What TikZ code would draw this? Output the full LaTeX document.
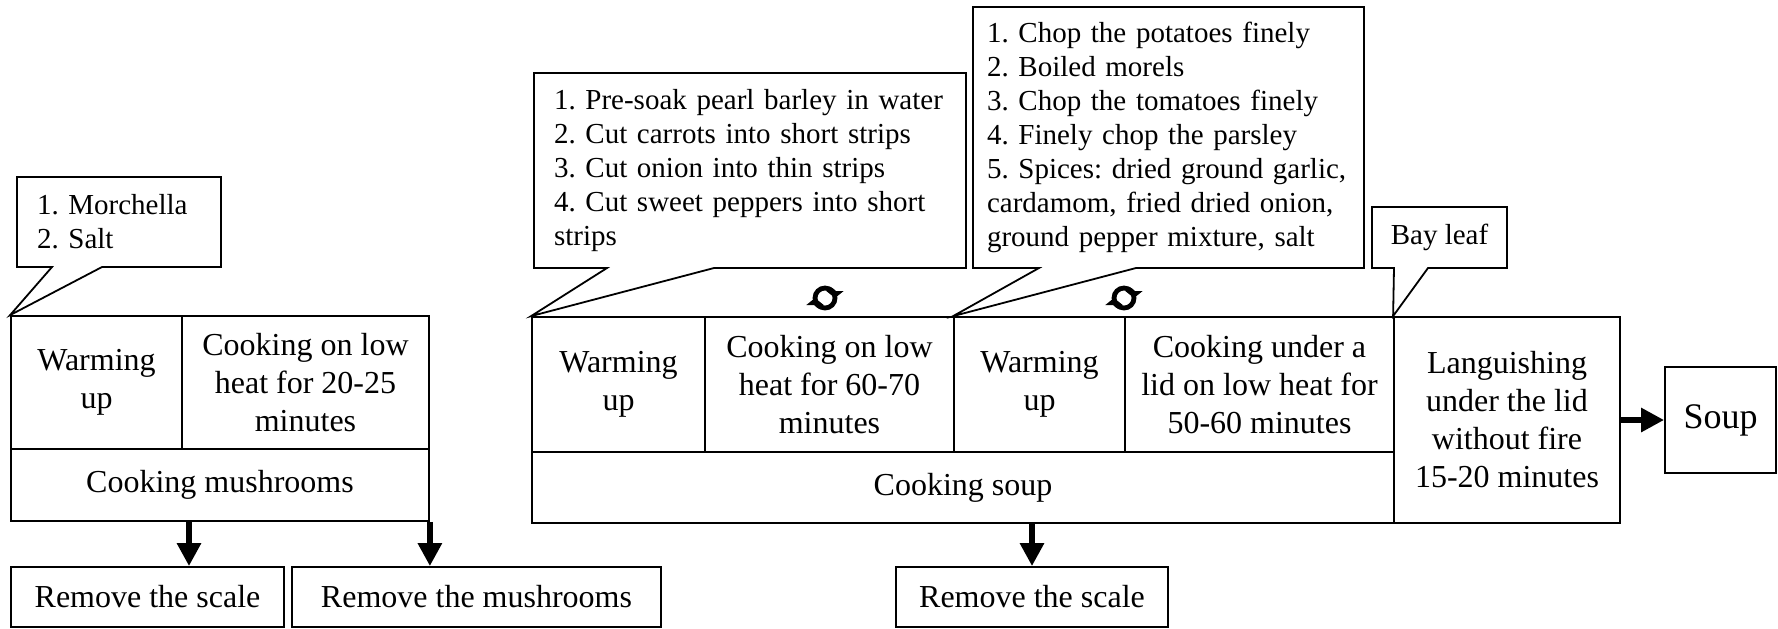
\documentclass[tikz,border=0pt]{standalone}
\usepackage{fontspec}
\setmainfont{Liberation Serif}
\usetikzlibrary{arrows.meta, calc, positioning}
\tikzset{
    mycell/.style = {
        rectangle,
        draw=black,
        line width=0.9pt,
        align=center,
        inner sep=0pt,
        font=\fontsize{16}{19}\selectfont
    },
    mynote/.style = {
        rectangle,
        align=left,
        inner xsep=10pt,
        inner ysep=0pt,
        outer sep=0pt,
        font=\fontsize{14.5}{17}\selectfont
    },
    myborder/.style = {
        line width=0.9pt,
        line join=miter
    },
    myarrow/.style = {
        line width=3pt,
        ->,
        >={Triangle[width=11.5pt,length=11.5pt]}
    },
    mycycle/.style = {
        line width=2.4pt,
        ->,
        >={Triangle[width=8.5pt,length=3.5pt]}
    }
}

\begin{document}
\frenchspacing
\hyphenpenalty=10000
\begin{tikzpicture}[x=0.5pt, y=-0.5pt]
\useasboundingbox (0,0) rectangle (1778,628);

% Cooking mushrooms
\node (mwarm) [mycell, minimum width=85.5pt, minimum height=66.5pt] at (96.5,382.5) {Warming\\up};
\node (mcook) [mycell, minimum width=123.5pt, minimum height=66.5pt] at (305.5,382.5) {Cooking on low\\heat for 20-25\\minutes};
\node (mbase) [mycell, minimum width=209pt, minimum height=36pt] at (220,485) {Cooking mushrooms};
\node (mscale) [mycell, minimum width=136.5pt, minimum height=30pt] at (147.5,597) {Remove the scale};
\node (mremove) [mycell, minimum width=184.5pt, minimum height=30pt] at (476.5,597) {Remove the mushrooms};

% Cooking soup
\node (swarma) [mycell, minimum width=86.5pt, minimum height=67.5pt] at (618.5,384.5) {Warming\\up};
\node (scooka) [mycell, minimum width=124.5pt, minimum height=67.5pt] at (829.5,384.5) {Cooking on low\\heat for 60-70\\minutes};
\node (swarmb) [mycell, minimum width=85.5pt, minimum height=67.5pt] at (1039.5,384.5) {Warming\\up};
\node (scookb) [mycell, minimum width=134.5pt, minimum height=67.5pt] at (1259.5,384.5) {Cooking under a\\lid on low heat for\\50-60 minutes};
\node (sbase) [mycell, minimum width=431pt, minimum height=35.5pt] at (963,487.5) {Cooking soup};
\node (slang) [mycell, minimum width=113pt, minimum height=103pt] at (1507,420) {Languishing\\under the lid\\without fire\\15-20 minutes};
\node (soup) [mycell, minimum width=55.5pt, minimum height=53pt, font=\fontsize{18}{21}\selectfont] at (1720.5,420) {Soup};
\node (sscale) [mycell, minimum width=136pt, minimum height=30pt] at (1032,597) {Remove the scale};

% Notes
\node (notem) [mynote, minimum width=102pt, minimum height=45pt, text width=82pt] at (119,222) {1. Morchella\\2. Salt};
\node (notea) [mynote, minimum width=216pt, minimum height=97.5pt, text width=196pt] at (750,170.5) {1. Pre-soak pearl barley in water\\2. Cut carrots into short strips\\3. Cut onion into thin strips\\4. Cut sweet peppers into short\\strips};
\node (noteb) [mynote, inner xsep=7pt, minimum width=195.5pt, minimum height=130.5pt, text width=181.5pt] at (1168.5,137.5) {1. Chop the potatoes finely\\2. Boiled morels\\3. Chop the tomatoes finely\\4. Finely chop the parsley\\5. Spices: dried ground garlic,\\cardamom, fried dried onion,\\ground pepper mixture, salt};
\node (notebay) [mynote, align=center, inner xsep=0pt, minimum width=67.5pt, minimum height=30.5pt] at (1439.5,237.5) {Bay leaf};

\draw[myborder] (notem.south west) -- (notem.north west) -- (notem.north east) -- (notem.south east) -- ($(notem.south west)+(85,0)$) -- (mwarm.north west) -- ($(notem.south west)+(35,0)$) -- cycle;
\draw[myborder] (notea.south west) -- (notea.north west) -- (notea.north east) -- (notea.south east) -- ($(notea.south west)+(180,0)$) -- (swarma.north west) -- ($(notea.south west)+(73,0)$) -- cycle;
\draw[myborder] (noteb.south west) -- (noteb.north west) -- (noteb.north east) -- (noteb.south east) -- ($(noteb.south west)+(163,0)$) -- (swarmb.north west) -- ($(noteb.south west)+(66,0)$) -- cycle;
\draw[myborder] (notebay.south west) -- (notebay.north west) -- (notebay.north east) -- (notebay.south east) -- ($(notebay.south west)+(56,0)$) -- (slang.north west) -- ($(notebay.south west)+(22,0)$) -- cycle;

% Repeat marks
\draw[line width=2.4pt] (825,298) circle (10);
\draw[mycycle] (825,298) ++(120:10) arc (120:180:10);
\draw[mycycle] (825,298) ++(300:10) arc (300:360:10);
\draw[line width=2.4pt] (1124,298) circle (10);
\draw[mycycle] (1124,298) ++(120:10) arc (120:180:10);
\draw[mycycle] (1124,298) ++(300:10) arc (300:360:10);

% Arrows
\coordinate (m1) at (189,521);
\draw[myarrow] (m1) -- (m1 |- mscale.north);
\draw[myarrow] (mbase.south east) -- (mbase.south east |- mremove.north);
\draw[myarrow] (sscale.north |- sbase.south) -- (sscale.north);
\draw[myarrow] (slang.east) -- (soup.west);

\end{tikzpicture}
\end{document}
